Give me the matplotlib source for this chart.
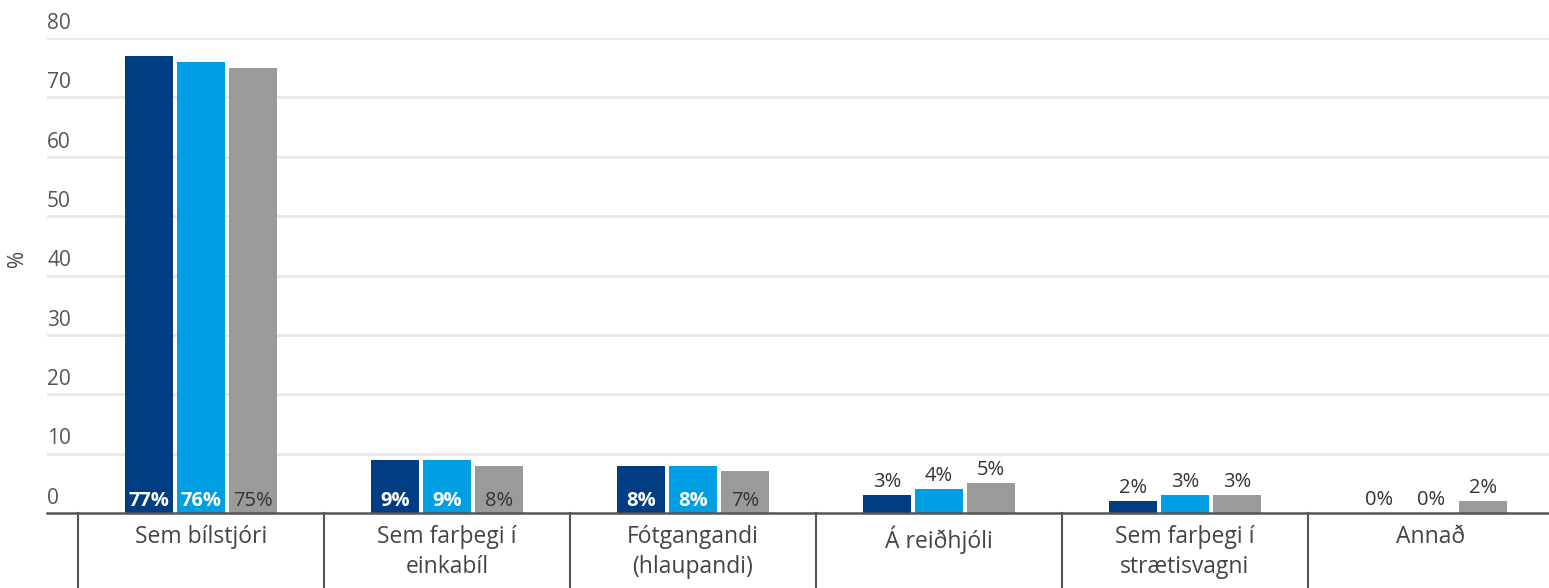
import matplotlib.pyplot as plt
import numpy as np

plt.rcParams['font.family'] = ['Open Sans', 'DejaVu Sans']

categories = ["Sem bílstjóri", "Sem farþegi í\neinkabíl", "Fótgangandi\n(hlaupandi)",
              "Á reiðhjóli", "Sem farþegi í\nstrætisvagni", "Annað"]
series_a = [77, 9, 8, 3, 2, 0]
series_b = [76, 9, 8, 4, 3, 0]
series_c = [75, 8, 7, 5, 3, 2]
colors = ["#003d82", "#009fe3", "#9a9a9a"]
yticks = [0, 10, 20, 30, 40, 50, 60, 70, 80]

fig = plt.figure(figsize=(15.49, 5.88), dpi=100)
ax = fig.add_axes([47 / 1549, 1 - 513 / 588, 1 - 47 / 1549, (513 - 38) / 588])

x = np.arange(len(categories))
width = 0.195
step = 0.211
for i, (vals, col) in enumerate(zip([series_a, series_b, series_c], colors)):
    pos = x + (i - 1) * step
    ax.bar(pos, vals, width=width, color=col, zorder=3)
    for p, v in zip(pos, vals):
        if v >= 7:
            tc = "white" if i < 2 else "#333333"
            fw = "bold" if i < 2 else "normal"
            ax.text(p, 0.3, f"{v}%", ha="center", va="bottom", color=tc,
                    fontsize=14.5, fontweight=fw, zorder=4)
        else:
            ax.text(p, v + 0.5, f"{v}%", ha="center", va="bottom", color="#333333",
                    fontsize=14.5, zorder=4)

ax.set_xlim(-0.626, 5.48)
ax.set_ylim(0, 80)

for t in yticks:
    if t > 0:
        ax.axhline(t, color="#e8e8e8", lw=2, zorder=1)
    ax.text(0, t + 0.7, str(t), transform=ax.get_yaxis_transform(), ha="left", va="bottom",
            fontsize=15, color="#555555", clip_on=False)

ax.axhline(0, color="#555555", lw=1.8, zorder=5, clip_on=False)

for s in ax.spines.values():
    s.set_visible(False)
ax.set_xticks([])
ax.set_yticks([])

# separators under the axis
for b in np.arange(len(categories)) - 0.5:
    ax.plot([b, b], [0, -13], color="#555555", lw=1.5, clip_on=False)

for xi, lab in zip(x, categories):
    ax.text(xi, -2.1, lab, ha="center", va="top", fontsize=16.5, color="#444444",
            linespacing=1.3, clip_on=False)

fig.text(18 / 1549, 1 - 258 / 588, "%", rotation=90, ha="center", va="center",
         fontsize=15, color="#444444")

fig.savefig("out.png", dpi=100)
